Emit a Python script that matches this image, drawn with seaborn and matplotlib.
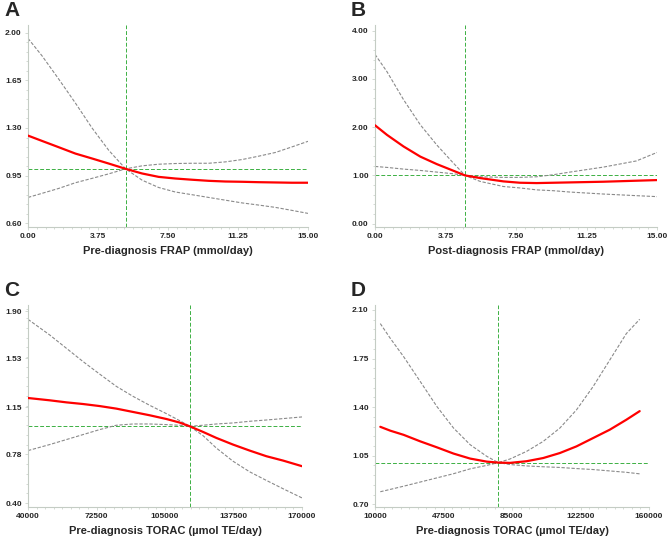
import numpy as np
import pandas as pd
import matplotlib
matplotlib.use("Agg")
import matplotlib.pyplot as plt
import seaborn as sns
from matplotlib.ticker import AutoMinorLocator, FormatStrFormatter

# ---------------- data ----------------
# Panel A: Pre-diagnosis FRAP
a_x = [0, 0.75, 1.64, 2.54, 3.43, 4.32, 5.23, 6.11, 7.0, 7.89, 8.79, 9.68,
       10.57, 11.46, 12.36, 13.25, 14.14, 15]
a_hr = [1.244, 1.205, 1.159, 1.112, 1.076, 1.039, 1.0, 0.966, 0.941, 0.929, 0.92,
        0.912, 0.907, 0.905, 0.902, 0.90, 0.898, 0.898]
a_ci1 = [1.958, 1.83, 1.66, 1.483, 1.30, 1.137, 1.0, 0.917, 0.863, 0.83, 0.81,
         0.79, 0.77, 0.75, 0.734, 0.717, 0.695, 0.673]
a_ci2 = [0.79, 0.82, 0.856, 0.898, 0.93, 0.963, 1.0, 1.022, 1.034, 1.039, 1.041,
         1.041, 1.051, 1.068, 1.093, 1.12, 1.161, 1.202]
a_ref = 5.23

# Panel B: Post-diagnosis FRAP
b_x = [0, 0.64, 1.52, 2.41, 3.29, 4.17, 4.79, 5.59, 6.83, 7.71, 8.6, 9.48,
       10.37, 12.14, 13.9, 15]
b_hr = [2.04, 1.84, 1.60, 1.39, 1.234, 1.097, 1.0, 0.945, 0.876, 0.848, 0.841,
        0.848, 0.855, 0.869, 0.89, 0.903]
b_ci1 = [3.51, 3.15, 2.57, 2.05, 1.63, 1.255, 1.0, 0.876, 0.77, 0.74, 0.70,
         0.683, 0.655, 0.614, 0.58, 0.56]
b_ci2 = [1.186, 1.166, 1.131, 1.103, 1.069, 1.034, 1.0, 0.972, 0.959, 0.959,
         0.972, 1.014, 1.069, 1.172, 1.30, 1.476]
b_ref = 4.79

# Panel C: Pre-diagnosis TORAC (40000-170000)
c_x = [40000, 50280, 58190, 66100, 74000, 81910, 89820, 97720, 105630, 111960,
       116700, 123030, 129360, 137260, 145170, 153080, 160990, 170000]
c_hr = [1.221, 1.203, 1.187, 1.174, 1.158, 1.138, 1.112, 1.086, 1.057, 1.029,
        1.0, 0.956, 0.909, 0.857, 0.81, 0.766, 0.732, 0.688]
c_ci1 = [1.836, 1.714, 1.61, 1.506, 1.408, 1.312, 1.234, 1.164, 1.099, 1.044,
         1.0, 0.927, 0.83, 0.727, 0.644, 0.577, 0.512, 0.44]
c_ci2 = [0.81, 0.857, 0.896, 0.935, 0.974, 1.008, 1.018, 1.018, 1.013, 1.008,
         1.0, 1.008, 1.018, 1.026, 1.039, 1.049, 1.06, 1.073]
c_ref = 116700

# Panel D: Pre-diagnosis TORAC (10000-160000)
d_x = [12900, 18400, 25700, 34800, 43900, 53000, 62100, 71200, 77500, 83900,
       93000, 102100, 111200, 120300, 129400, 138500, 147600, 154900]
d_hr = [1.258, 1.23, 1.20, 1.153, 1.11, 1.065, 1.029, 1.007, 1.0, 0.998, 1.01,
        1.033, 1.069, 1.117, 1.177, 1.237, 1.309, 1.371]
d_ci1 = [2.002, 1.895, 1.763, 1.584, 1.404, 1.249, 1.129, 1.045, 1.0, 1.026,
         1.081, 1.153, 1.249, 1.38, 1.548, 1.739, 1.93, 2.033]
d_ci2 = [0.79, 0.807, 0.83, 0.86, 0.89, 0.92, 0.955, 0.98, 1.0, 0.986, 0.976,
         0.97, 0.965, 0.957, 0.95, 0.94, 0.93, 0.919]
d_ref = 77500

letters = ["A", "B", "C", "D"]
xlabels = ["Pre-diagnosis FRAP (mmol/day)", "Post-diagnosis FRAP (mmol/day)",
           "Pre-diagnosis TORAC (µmol TE/day)", "Pre-diagnosis TORAC (µmol TE/day)"]
xticks = [[0, 3.75, 7.5, 11.25, 15], [0, 3.75, 7.5, 11.25, 15],
          [40000, 72500, 105000, 137500, 170000], [10000, 47500, 85000, 122500, 160000]]
yticks = [[0.60, 0.95, 1.30, 1.65, 2.00], [0, 1, 2, 3, 4],
          [0.40, 0.78, 1.15, 1.53, 1.90], [0.70, 1.05, 1.40, 1.75, 2.10]]

# ---------------- style ----------------
sns.set_style("ticks")
plt.rcParams["font.family"] = ["Liberation Sans", "DejaVu Sans"]

W, H = 669, 537
fig = plt.figure(figsize=(W / 100, H / 100), dpi=100)

# axes boxes in pixels: left, top, right, bottom
boxes = [(28, 25, 308, 227), (375, 25, 657, 227),
         (28, 305, 302, 507), (375, 305, 649, 507)]
xlims = [(0, 15), (0, 15), (40000, 170000), (10000, 160000)]
ylims = [(0.573, 2.056), (-0.07, 4.12), (0.369, 1.948), (0.68, 2.136)]
xfmt = ["%.2f", "%.2f", "%d", "%d"]

panels = [(a_x, a_hr, a_ci1, a_ci2, a_ref), (b_x, b_hr, b_ci1, b_ci2, b_ref),
          (c_x, c_hr, c_ci1, c_ci2, c_ref), (d_x, d_hr, d_ci1, d_ci2, d_ref)]

green = "#3cb043"
spine_col = "#c4ccc4"

for i, (px, hr, ci1, ci2, ref) in enumerate(panels):
    l, t, r, b = boxes[i]
    ax = fig.add_axes([l / W, 1 - b / H, (r - l) / W, (b - t) / H])
    df = pd.DataFrame({"x": px, "hr": hr, "ci1": ci1, "ci2": ci2})

    ax.axvline(ref, color=green, lw=0.7, ls=(0, (4, 2)), zorder=1)
    ax.axhline(1.0, color=green, lw=0.7, ls=(0, (4, 2)), zorder=1)
    sns.lineplot(data=df, x="x", y="ci1", ax=ax, color="#8a8a8a", lw=0.8,
                 linestyle=(0, (3, 1.5)), zorder=2)
    sns.lineplot(data=df, x="x", y="ci2", ax=ax, color="#8a8a8a", lw=0.8,
                 linestyle=(0, (3, 1.5)), zorder=2)
    sns.lineplot(data=df, x="x", y="hr", ax=ax, color="#ff0000", lw=1.6, zorder=3)

    ax.set_xlim(*xlims[i])
    ax.set_ylim(*ylims[i])
    ax.set_xticks(xticks[i])
    ax.set_yticks(yticks[i])
    ax.xaxis.set_major_formatter(FormatStrFormatter(xfmt[i]))
    ax.yaxis.set_major_formatter(FormatStrFormatter("%.2f"))
    ax.xaxis.set_minor_locator(AutoMinorLocator(8))
    ax.yaxis.set_minor_locator(AutoMinorLocator(5))
    ax.tick_params(axis="both", which="major", labelsize=6, length=2.5, width=0.5,
                   color=spine_col, pad=2)
    ax.tick_params(axis="both", which="minor", length=1.5, width=0.5, color=spine_col)
    for lab in ax.get_xticklabels() + ax.get_yticklabels():
        lab.set_fontweight("bold")
    ax.set_xlabel(xlabels[i], fontsize=8, fontweight="bold", labelpad=4)
    ax.set_ylabel("")
    for s in ["top", "right"]:
        ax.spines[s].set_visible(False)
    for s in ["left", "bottom"]:
        ax.spines[s].set_color(spine_col)
        ax.spines[s].set_linewidth(0.8)

    fig.text((l - 24) / W, 1 - (t - 14) / H, letters[i], fontsize=15,
             fontweight="bold", ha="left", va="center")

fig.savefig("out.png", dpi=100)
